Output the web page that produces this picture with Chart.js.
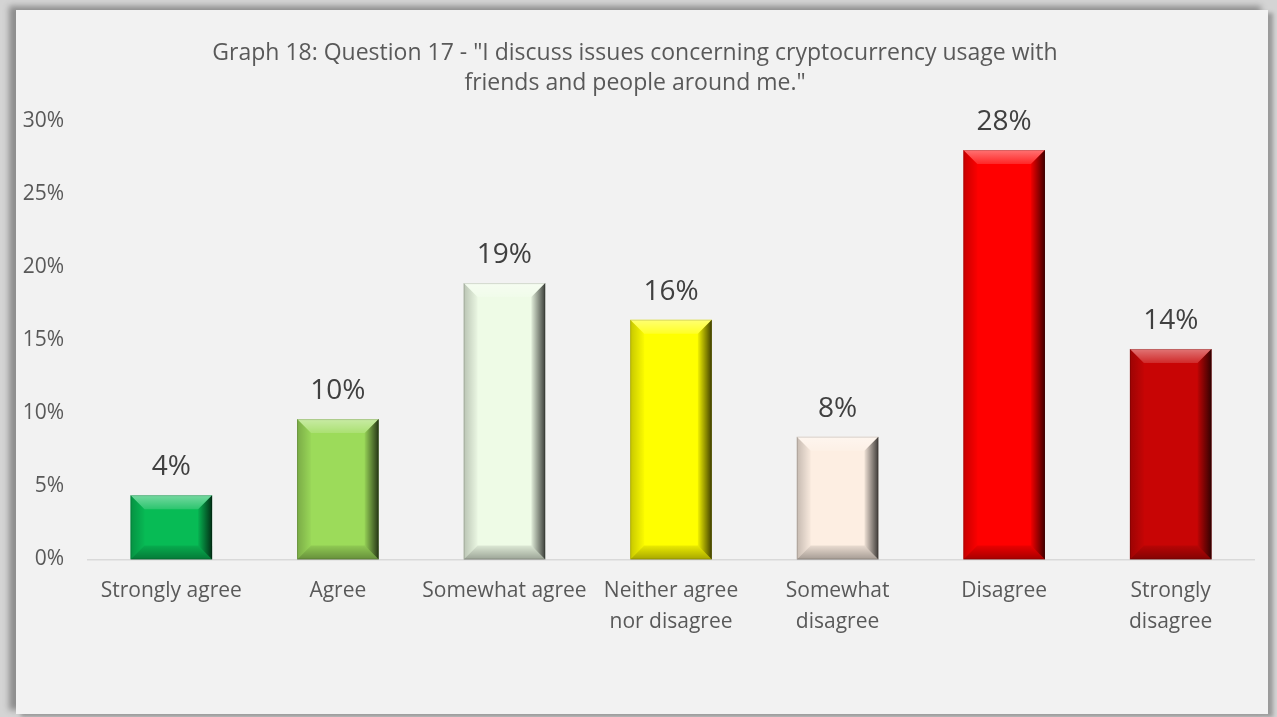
<!DOCTYPE html>
<html>
<head>
<meta charset="utf-8">
<title>Graph 18</title>
<script src="https://cdn.jsdelivr.net/npm/chart.js@4.4.1/dist/chart.umd.min.js"></script>
<style>
    html, body {
        margin: 0;
        padding: 0;
        width: 1277px;
        height: 717px;
        overflow: hidden;
        background: #d4d4d4;
    }
    #card {
        position: absolute;
        left: 16px;
        top: 10px;
        width: 1252px;
        height: 704px;
        background: #f2f2f2;
        box-shadow: -7px -4px 6px #8e8e8e, 5px 3px 4px #9a9a9a;
    }
    canvas {
        display: block;
    }
</style>
</head>
<body>
<div id="card">
    <canvas id="barChart" width="1252" height="704"></canvas>
</div>
<script>
// survey answers for question 17
const categories = [
    'Strongly agree',
    'Agree',
    'Somewhat agree',
    ['Neither agree', 'nor disagree'],
    ['Somewhat', 'disagree'],
    'Disagree',
    ['Strongly', 'disagree']
];
const shares = [4.4, 9.6, 18.9, 16.4, 8.4, 28.0, 14.4]; // percent of respondents
const barColors = ['#07bb55', '#9cdb5a', '#eefbe6', '#ffff00', '#fdeee2', '#ff0000', '#c80505'];
const yTicks = [0, 5, 10, 15, 20, 25, 30];
const titleLines = [
    'Graph 18: Question 17 - "I discuss issues concerning cryptocurrency usage with',
    'friends and people around me."'
];

const FONT = '"Open Sans", "Noto Sans", sans-serif';

// bevelled look on top of each flat bar
const bevelPlugin = {
    id: 'bevel',
    afterDatasetsDraw(chart) {
        const ctx = chart.ctx;
        chart.getDatasetMeta(0).data.forEach(bar => {
            const x0 = bar.x - bar.width / 2;
            const x1 = bar.x + bar.width / 2;
            const top = bar.y;
            const bottom = bar.base;
            const b = Math.min(14, (bottom - top) / 3);
            ctx.save();

            let g = ctx.createLinearGradient(0, top, 0, top + b);
            g.addColorStop(0, 'rgba(255,255,255,0.45)');
            g.addColorStop(1, 'rgba(255,255,255,0.15)');
            ctx.fillStyle = g;
            ctx.beginPath();
            ctx.moveTo(x0, top); ctx.lineTo(x1, top);
            ctx.lineTo(x1 - b, top + b); ctx.lineTo(x0 + b, top + b);
            ctx.closePath(); ctx.fill();

            g = ctx.createLinearGradient(x0, 0, x0 + b, 0);
            g.addColorStop(0, 'rgba(0,0,0,0.22)');
            g.addColorStop(1, 'rgba(0,0,0,0.02)');
            ctx.fillStyle = g;
            ctx.beginPath();
            ctx.moveTo(x0, top); ctx.lineTo(x0 + b, top + b);
            ctx.lineTo(x0 + b, bottom - b); ctx.lineTo(x0, bottom);
            ctx.closePath(); ctx.fill();

            g = ctx.createLinearGradient(x1 - b, 0, x1, 0);
            g.addColorStop(0, 'rgba(0,0,0,0.05)');
            g.addColorStop(1, 'rgba(0,0,0,0.75)');
            ctx.fillStyle = g;
            ctx.beginPath();
            ctx.moveTo(x1, top); ctx.lineTo(x1, bottom);
            ctx.lineTo(x1 - b, bottom - b); ctx.lineTo(x1 - b, top + b);
            ctx.closePath(); ctx.fill();

            g = ctx.createLinearGradient(0, bottom - b, 0, bottom);
            g.addColorStop(0, 'rgba(0,0,0,0.08)');
            g.addColorStop(1, 'rgba(0,0,0,0.35)');
            ctx.fillStyle = g;
            ctx.beginPath();
            ctx.moveTo(x0, bottom); ctx.lineTo(x1, bottom);
            ctx.lineTo(x1 - b, bottom - b); ctx.lineTo(x0 + b, bottom - b);
            ctx.closePath(); ctx.fill();

            ctx.strokeStyle = 'rgba(0,0,0,0.15)';
            ctx.lineWidth = 1;
            ctx.strokeRect(x0 + 0.5, top + 0.5, bar.width - 1, bottom - top - 1);
            ctx.restore();
        });
    }
};

// percentage above every bar
const valueLabelPlugin = {
    id: 'valueLabels',
    afterDatasetsDraw(chart) {
        const ctx = chart.ctx;
        const values = chart.data.datasets[0].data;
        ctx.save();
        ctx.font = '28px ' + FONT;
        ctx.fillStyle = '#404040';
        ctx.textAlign = 'center';
        ctx.textBaseline = 'middle';
        chart.getDatasetMeta(0).data.forEach((bar, i) => {
            ctx.fillText(Math.round(values[i]) + '%', bar.x, bar.y - 28);
        });
        ctx.restore();
    }
};

function createBarChart() {
    const ctx = document.getElementById('barChart').getContext('2d');
    new Chart(ctx, {
        type: 'bar',
        data: {
            labels: categories,
            datasets: [{
                data: shares,
                backgroundColor: barColors,
                borderWidth: 0,
                barPercentage: 0.49,
                categoryPercentage: 1
            }]
        },
        options: {
            responsive: false,
            animation: false,
            layout: {
                padding: { left: 0, right: 14, top: 0, bottom: 0 }
            },
            plugins: {
                legend: { display: false },
                tooltip: { enabled: false },
                title: {
                    display: true,
                    text: titleLines,
                    color: '#595959',
                    font: { family: FONT, size: 23, weight: 'normal', lineHeight: 1.3 },
                    padding: { top: 29, bottom: 22 }
                }
            },
            scales: {
                x: {
                    grid: { display: false, drawTicks: false },
                    border: { display: true, color: '#d9d9d9', width: 1.5 },
                    ticks: {
                        color: '#595959',
                        font: { family: FONT, size: 21, lineHeight: 1.43 },
                        padding: 17,
                        maxRotation: 0,
                        autoSkip: false
                    },
                    afterFit: s => { s.height = 704 - 549.5; }
                },
                y: {
                    min: 0,
                    max: 30,
                    grid: { display: false, drawTicks: false },
                    border: { display: false },
                    afterBuildTicks: s => { s.ticks = yTicks.map(v => ({ value: v })); },
                    afterFit: s => { s.width = 72; },
                    ticks: {
                        color: '#595959',
                        font: { family: FONT, size: 21 },
                        padding: 24,
                        callback: v => v + '%'
                    }
                }
            }
        },
        plugins: [bevelPlugin, valueLabelPlugin]
    });
}

document.addEventListener('DOMContentLoaded', createBarChart);
</script>
</body>
</html>
